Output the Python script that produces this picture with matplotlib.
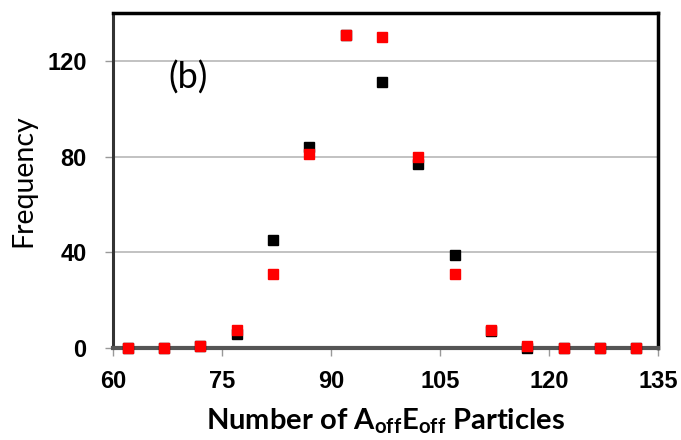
import matplotlib
matplotlib.use("Agg")
import matplotlib.pyplot as plt

x_vals = [62, 67, 72, 77, 82, 87, 92, 97, 102, 107, 112, 117, 122, 127, 132]
black_freq = [0, 0, 1, 6, 45, 84, 131, 111, 77, 39, 7, 0, 0, 0, 0]
red_freq = [0, 0, 1, 7.5, 31, 81, 131, 130, 80, 31, 7.5, 1, 0, 0, 0]
x_ticks = [60, 75, 90, 105, 120, 135]
y_ticks = [0, 40, 80, 120]

fig = plt.figure(figsize=(6.81, 4.40), dpi=100)
ax = fig.add_axes([113/681, 1-348/440, (658-113)/681, (348-13)/440])

ax.plot(x_vals, black_freq, linestyle='none', marker='s', ms=7.2, color='black', zorder=3, clip_on=False)
ax.plot(x_vals, red_freq, linestyle='none', marker='s', ms=7.2, color='#ff0000', zorder=4, clip_on=False)

ax.set_xlim(60, 135)
ax.set_ylim(0, 140)
tick_font = dict(fontsize=17, fontweight='bold', family='Liberation Sans')
ax.set_xticks(x_ticks, labels=[str(v) for v in x_ticks], **tick_font)
ax.set_yticks(y_ticks, labels=[str(v) for v in y_ticks], **tick_font)
ax.yaxis.grid(True, color='#b8b8b8', linewidth=1.2)
ax.set_axisbelow(True)

for s in ['top', 'right']:
    ax.spines[s].set_color('black')
    ax.spines[s].set_linewidth(2.5)
ax.spines['left'].set_color('#333333')
ax.spines['left'].set_linewidth(2.2)
ax.spines['bottom'].set_color('#555555')
ax.spines['bottom'].set_linewidth(3)

ax.tick_params(axis='both', direction='out', length=6, width=1, color='#999999')
ax.tick_params(axis='x', pad=10)
ax.tick_params(axis='y', pad=13)

ax.set_ylabel('Frequency', fontsize=20.5, family='Lato', labelpad=8)
ax.set_xlabel(r'Number of A$_{\mathregular{off}}$E$_{\mathregular{off}}$ Particles',
              fontsize=21, fontweight='bold', family='Lato', labelpad=9)

ax.text(70.3, 113, '(b)', fontsize=26, family='Lato', ha='center', va='center')

fig.savefig('out.png', dpi=100)
